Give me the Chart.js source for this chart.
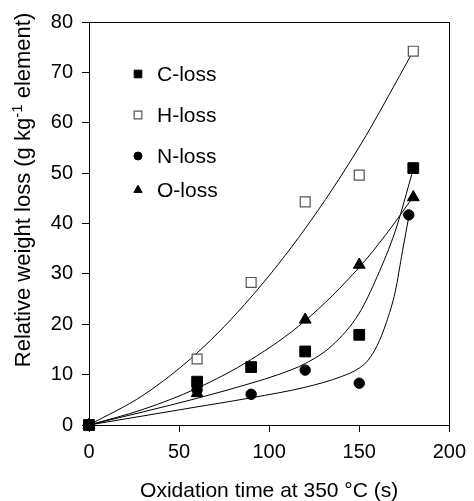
<!DOCTYPE html>
<html>
<head>
<meta charset="utf-8">
<script src="https://cdn.jsdelivr.net/npm/chart.js@4.4.1/dist/chart.umd.min.js"></script>
<style>
  html, body { margin: 0; padding: 0; background: #fff; }
  #wrap { width: 474px; height: 501px; }
</style>
</head>
<body>
<div id="wrap"><canvas id="myChart" width="474" height="501"></canvas></div>
<script>
// measured points
const seriesNames = ['C-loss', 'H-loss', 'N-loss', 'O-loss'];
const timeC = [0, 60, 90, 120, 150, 180];
const lossC = [0, 8.6, 11.5, 14.6, 17.9, 51.0];
const timeH = [0, 60, 90, 120, 150, 180];
const lossH = [0, 13.1, 28.3, 44.3, 49.6, 74.2];
const timeN = [0, 60, 90, 120, 150, 177.5];
const lossN = [0, 7.0, 6.1, 10.9, 8.3, 41.7];
const timeO = [0, 60, 120, 150, 180];
const lossO = [0, 6.3, 20.9, 31.8, 45.2];

// fitted curves
const fitTimeC = [0, 30, 60, 90, 105, 120, 135, 150, 160, 170, 180];
const fitC = [0, 2.6, 5.3, 8.3, 10.0, 12.2, 15.8, 22.2, 29.5, 38.5, 50.8];
const fitTimeH = [0, 30, 60, 90, 120, 150, 180];
const fitH = [0, 5.9, 14.3, 25.4, 39.0, 55.2, 74.2];
const fitTimeN = [0, 30, 60, 90, 120, 140, 150, 155, 160, 165, 170, 174, 177.6];
const fitN = [0, 1.8, 3.6, 5.4, 7.5, 9.6, 11.3, 12.9, 15.8, 20.3, 26.5, 34.5, 41.5];
const fitTimeO = [0, 30, 60, 90, 120, 150, 165, 180];
const fitO = [0, 3.1, 7.3, 13.0, 20.7, 31.3, 37.9, 45.3];

const xTicks = [0, 50, 100, 150, 200];
const yTicks = [0, 10, 20, 30, 40, 50, 60, 70, 80];

const FONT = 'Liberation Sans, Arial, Helvetica, sans-serif';
const pts = (xs, ys) => xs.map((x, i) => ({ x: x, y: ys[i] }));

const markers = [
  { pointStyle: 'rect', radius: 7.6, fill: '#000', stroke: '#000', bw: 1, lr: 5.4 },
  { pointStyle: 'rect', radius: 7.0, fill: '#fff', stroke: '#555', bw: 1.2, lr: 5.4 },
  { pointStyle: 'circle', radius: 5.2, fill: '#000', stroke: '#000', bw: 1, lr: 4.0 },
  { pointStyle: 'triangle', radius: 6.8, fill: '#000', stroke: '#000', bw: 1, lr: 4.8 }
];

function pointSet(i, xs, ys) {
  const m = markers[i];
  return {
    label: seriesNames[i],
    data: pts(xs, ys),
    showLine: false,
    pointStyle: m.pointStyle,
    pointRadius: m.radius,
    pointBackgroundColor: m.fill,
    pointBorderColor: m.stroke,
    pointBorderWidth: m.bw,
    clip: false
  };
}

function curveSet(xs, ys) {
  return {
    label: 'fit',
    data: pts(xs, ys),
    showLine: true,
    pointRadius: 0,
    borderColor: '#000',
    borderWidth: 1,
    cubicInterpolationMode: 'monotone',
    fill: false
  };
}

const chartPlugin = {
  id: 'frameAndLabels',
  afterDraw(chart) {
    const c = chart.ctx;
    const a = chart.chartArea;
    c.save();
    // box
    c.strokeStyle = '#000';
    c.lineWidth = 1;
    c.strokeRect(Math.round(a.left) + 0.5, Math.round(a.top) + 0.5,
      Math.round(a.right - a.left), Math.round(a.bottom - a.top));

    // legend
    const legY = [74, 115, 156, 190];
    seriesNames.forEach((name, i) => {
      const m = markers[i];
      c.fillStyle = m.fill;
      c.strokeStyle = m.stroke;
      c.lineWidth = m.bw;
      Chart.helpers.drawPoint(c, { pointStyle: m.pointStyle, radius: m.lr, rotation: 0, borderWidth: m.bw }, 138, legY[i]);
      c.fillStyle = '#000';
      c.font = '21px ' + FONT;
      c.textBaseline = 'middle';
      c.textAlign = 'left';
      c.fillText(name, 157, legY[i] + 1);
    });

    // x title
    c.font = '21px ' + FONT;
    c.textAlign = 'center';
    c.textBaseline = 'alphabetic';
    c.fillText('Oxidation time at 350 \u00B0C (s)', (a.left + a.right) / 2, 497);

    // y title with superscript
    const p1 = 'Relative weight loss (g kg', sup = '-1', p2 = ' element)';
    c.font = '22px ' + FONT;
    const w1 = c.measureText(p1).width, w3 = c.measureText(p2).width;
    c.font = '15px ' + FONT;
    const w2 = c.measureText(sup).width;
    const total = w1 + w2 + w3;
    c.translate(30, 190);
    c.rotate(-Math.PI / 2);
    c.textAlign = 'left';
    let x0 = -total / 2;
    c.font = '22px ' + FONT;
    c.fillText(p1, x0, 0);
    c.font = '15px ' + FONT;
    c.fillText(sup, x0 + w1, -8);
    c.font = '22px ' + FONT;
    c.fillText(p2, x0 + w1 + w2, 0);
    c.restore();
  }
};

const ctx = document.getElementById('myChart');

new Chart(ctx, {
  type: 'scatter',
  data: {
    datasets: [
      pointSet(0, timeC, lossC),
      pointSet(1, timeH, lossH),
      pointSet(2, timeN, lossN),
      pointSet(3, timeO, lossO),
      curveSet(fitTimeC, fitC),
      curveSet(fitTimeH, fitH),
      curveSet(fitTimeN, fitN),
      curveSet(fitTimeO, fitO)
    ]
  },
  options: {
    responsive: false,
    animation: false,
    layout: { padding: { top: 22, right: 19, left: 0, bottom: 0 } },
    scales: {
      x: {
        type: 'linear',
        min: 0, max: 200,
        afterFit: s => { s.height = 76; },
        afterBuildTicks: s => { s.ticks = xTicks.map(v => ({ value: v })); },
        ticks: { color: '#000', font: { size: 20, family: FONT }, padding: 8, maxRotation: 0 },
        grid: { drawOnChartArea: false, tickLength: 7, color: '#000', tickColor: '#000' },
        border: { color: '#000', width: 1 }
      },
      y: {
        type: 'linear',
        min: 0, max: 80,
        afterFit: s => { s.width = 89; },
        afterBuildTicks: s => { s.ticks = yTicks.map(v => ({ value: v })); },
        ticks: { color: '#000', font: { size: 20, family: FONT }, padding: 9 },
        grid: { drawOnChartArea: false, tickLength: 7, color: '#000', tickColor: '#000' },
        border: { color: '#000', width: 1 }
      }
    },
    plugins: {
      legend: { display: false },
      tooltip: { enabled: false }
    }
  },
  plugins: [chartPlugin]
});
</script>
</body>
</html>
